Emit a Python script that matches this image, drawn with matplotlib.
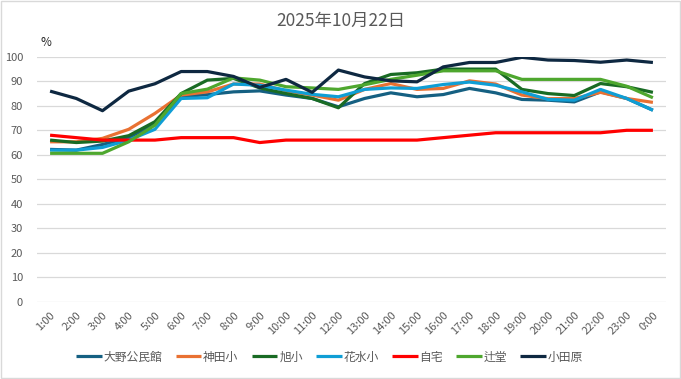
import matplotlib
matplotlib.use("Agg")
import matplotlib.pyplot as plt
from matplotlib.patches import Rectangle

plt.rcParams['font.family'] = ['Noto Sans CJK JP', 'DejaVu Sans']

hours = ["1:00", "2:00", "3:00", "4:00", "5:00", "6:00", "7:00", "8:00", "9:00", "10:00",
         "11:00", "12:00", "13:00", "14:00", "15:00", "16:00", "17:00", "18:00", "19:00",
         "20:00", "21:00", "22:00", "23:00", "0:00"]

oono = [62.2, 61.9, 64.2, 66.9, 72.8, 83.7, 84.6, 85.7, 86.1, 84.4, 83.0, 79.6,
        83.0, 85.3, 83.7, 84.6, 87.1, 85.3, 82.6, 82.3, 81.6, 85.7, 83.0, 78.2]
kanda = [65.3, 65.3, 66.7, 70.4, 76.9, 84.4, 85.7, 88.9, 88.9, 86.1, 84.4, 82.3,
         86.7, 89.1, 86.7, 87.1, 90.2, 88.9, 84.4, 82.9, 83.0, 85.5, 83.0, 81.4]
asahi = [66.0, 65.0, 65.6, 67.8, 73.5, 85.0, 90.5, 91.2, 87.3, 85.0, 83.0, 79.2,
         89.1, 92.8, 93.5, 95.0, 95.0, 95.0, 86.7, 85.0, 84.2, 89.1, 87.8, 85.5]
hanamizu = [61.9, 61.9, 63.0, 66.0, 70.4, 83.0, 83.3, 88.9, 88.4, 86.4, 84.7, 83.7,
            86.7, 87.3, 87.1, 88.7, 89.7, 88.4, 85.7, 82.6, 82.3, 86.7, 83.0, 78.2]
jitaku = [68, 67, 66, 66, 66, 67, 67, 67, 65, 66, 66, 66,
          66, 66, 66, 67, 68, 69, 69, 69, 69, 69, 70, 70]
tsujido = [60.6, 60.6, 60.6, 65.3, 72.1, 85.0, 86.8, 91.4, 90.5, 87.8, 87.3, 86.7,
           88.6, 90.8, 92.5, 94.3, 94.3, 94.3, 90.8, 90.8, 90.8, 90.8, 88.0, 83.3]
odawara = [86, 83, 78, 86, 89, 94, 94, 92, 87.5, 90.8, 85.5, 94.6,
           91.8, 90.2, 89.8, 95.9, 97.7, 97.7, 99.8, 98.7, 98.5, 97.8, 98.7, 97.7]

series_names = ["大野公民館", "神田小", "旭小", "花水小", "自宅", "辻堂", "小田原"]
series_values = [oono, kanda, asahi, hanamizu, jitaku, tsujido, odawara]
colors = ["#156082", "#E97132", "#196B24", "#0F9ED5", "#FF0000", "#4EA72E", "#0E2841"]

title = "2025年10月22日"
yticks = [0, 10, 20, 30, 40, 50, 60, 70, 80, 90, 100]

fig = plt.figure(figsize=(6.81, 3.79), dpi=100)
fig.patch.set_facecolor("white")
fig.add_artist(Rectangle((0.001, 0.002), 0.997, 0.995, transform=fig.transFigure,
                         fill=False, edgecolor="#D9D9D9", linewidth=1.0))

ax = fig.add_axes([0.0543, 0.204, 0.9237, 0.646])
x = list(range(len(hours)))
for name, vals, c in zip(series_names, series_values, colors):
    ax.plot(x, vals, color=c, linewidth=2.3, label=name, solid_capstyle="butt")

ax.set_xlim(-0.5, len(hours) - 0.5)
ax.set_ylim(0, 100)
ax.set_yticks(yticks)
ax.set_yticklabels([str(v) for v in yticks])
ax.set_xticks(x)
ax.set_xticklabels(hours, rotation=45, ha="right", rotation_mode="anchor")
ax.tick_params(axis="both", length=0, colors="#595959", labelsize=8)
ax.tick_params(axis="x", pad=6)
ax.tick_params(axis="y", pad=10)
ax.grid(axis="y", color="#D9D9D9", linewidth=0.9)
ax.set_axisbelow(True)
for s in ax.spines.values():
    s.set_visible(False)

fig.text(0.5, 0.945, title, ha="center", va="center", fontsize=12.5, color="#595959")
fig.text(0.06, 0.888, "%", ha="left", va="center", fontsize=8.5, color="#262626")

leg = fig.legend(loc="center", bbox_to_anchor=(0.484, 0.058), ncol=7, frameon=False,
                 fontsize=8.5, handlelength=2.2, handletextpad=0.15, columnspacing=1.1,
                 labelcolor="#595959")
for line in leg.get_lines():
    line.set_linewidth(2.3)

fig.savefig("out.png", dpi=100)
